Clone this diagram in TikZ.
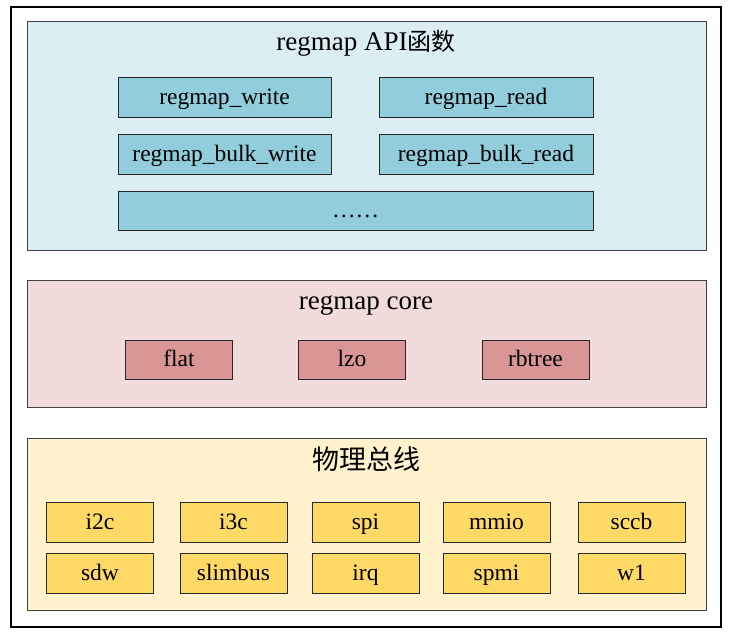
\documentclass[tikz,border=0pt]{standalone}
\usepackage{fontspec}
\setmainfont{Liberation Serif}
\newfontfamily\cjk{Noto Sans CJK SC}
\usepackage{tikz}
\usetikzlibrary{positioning}

\definecolor{apibg}{HTML}{DBEEF4}
\definecolor{apibox}{HTML}{92CDDC}
\definecolor{corebg}{HTML}{F2DCDB}
\definecolor{corebox}{HTML}{D99694}
\definecolor{busbg}{HTML}{FFF2CC}
\definecolor{busbox}{HTML}{FFD966}

\tikzset{
  panel/.style={draw=black!75, line width=1pt, inner sep=0pt},
  layertitle/.style={font=\fontsize{27}{30}\selectfont, inner sep=0pt, text height=18pt, text depth=2pt},
  unitbox/.style={draw=black!85, line width=1pt, inner sep=0pt, minimum height=40pt,
    text height=16pt, text depth=2pt, font=\fontsize{23.5}{26}\selectfont}
}

\begin{document}
\begin{tikzpicture}[x=1pt, y=-1pt]
\useasboundingbox (0,0) rectangle (732,633);
\draw [line width=2pt] (11,7) rectangle (721,627);

\node[panel, fill=apibg, minimum width=679pt, minimum height=229pt] (api) at (366.5,135.5) {};
\node[layertitle] (apititle) at (366,42) {regmap API{\cjk\fontsize{24}{28}\selectfont 函数}};
\node[unitbox, fill=apibox, minimum width=213pt] (wr) at (224.5,97) {regmap\_write};
\node[unitbox, fill=apibox, minimum width=214pt] (rd) at (486,97) {regmap\_read};
\node[unitbox, fill=apibox, minimum width=213pt] (bwr) at (224.5,154) {regmap\_bulk\_write};
\node[unitbox, fill=apibox, minimum width=214pt] (brd) at (486,154) {regmap\_bulk\_read};
\node[unitbox, fill=apibox, minimum width=475pt, minimum height=39pt] (more) at (355.5,210.5) {……};

\node[panel, fill=corebg, minimum width=679pt, minimum height=127pt] (core) at (366.5,343.5) {};
\node[layertitle] (coretitle) at (366,301) {regmap core};
\node[unitbox, fill=corebox, minimum width=107pt, minimum height=39pt] (flat) at (179,359.5) {flat};
\node[unitbox, fill=corebox, minimum width=107pt, minimum height=39pt] (lzo) at (352,359.5) {lzo};
\node[unitbox, fill=corebox, minimum width=107pt, minimum height=39pt] (rbtree) at (535.5,359.5) {rbtree};

\node[panel, fill=busbg, minimum width=679pt, minimum height=172pt] (bus) at (366.5,524) {};
\node[layertitle] (bustitle) at (366,461) {\cjk 物理总线};
\foreach \name/\x/\y in {i2c/100/522, i3c/233.5/522, spi/365.5/522, mmio/496.5/522, sccb/631.5/522,
  sdw/100/573, slimbus/233.5/573, irq/365.5/573, spmi/496.5/573, w1/631.5/573}
  \node[unitbox, fill=busbox, minimum width=107pt] (\name) at (\x,\y) {\name};

\end{tikzpicture}
\end{document}
